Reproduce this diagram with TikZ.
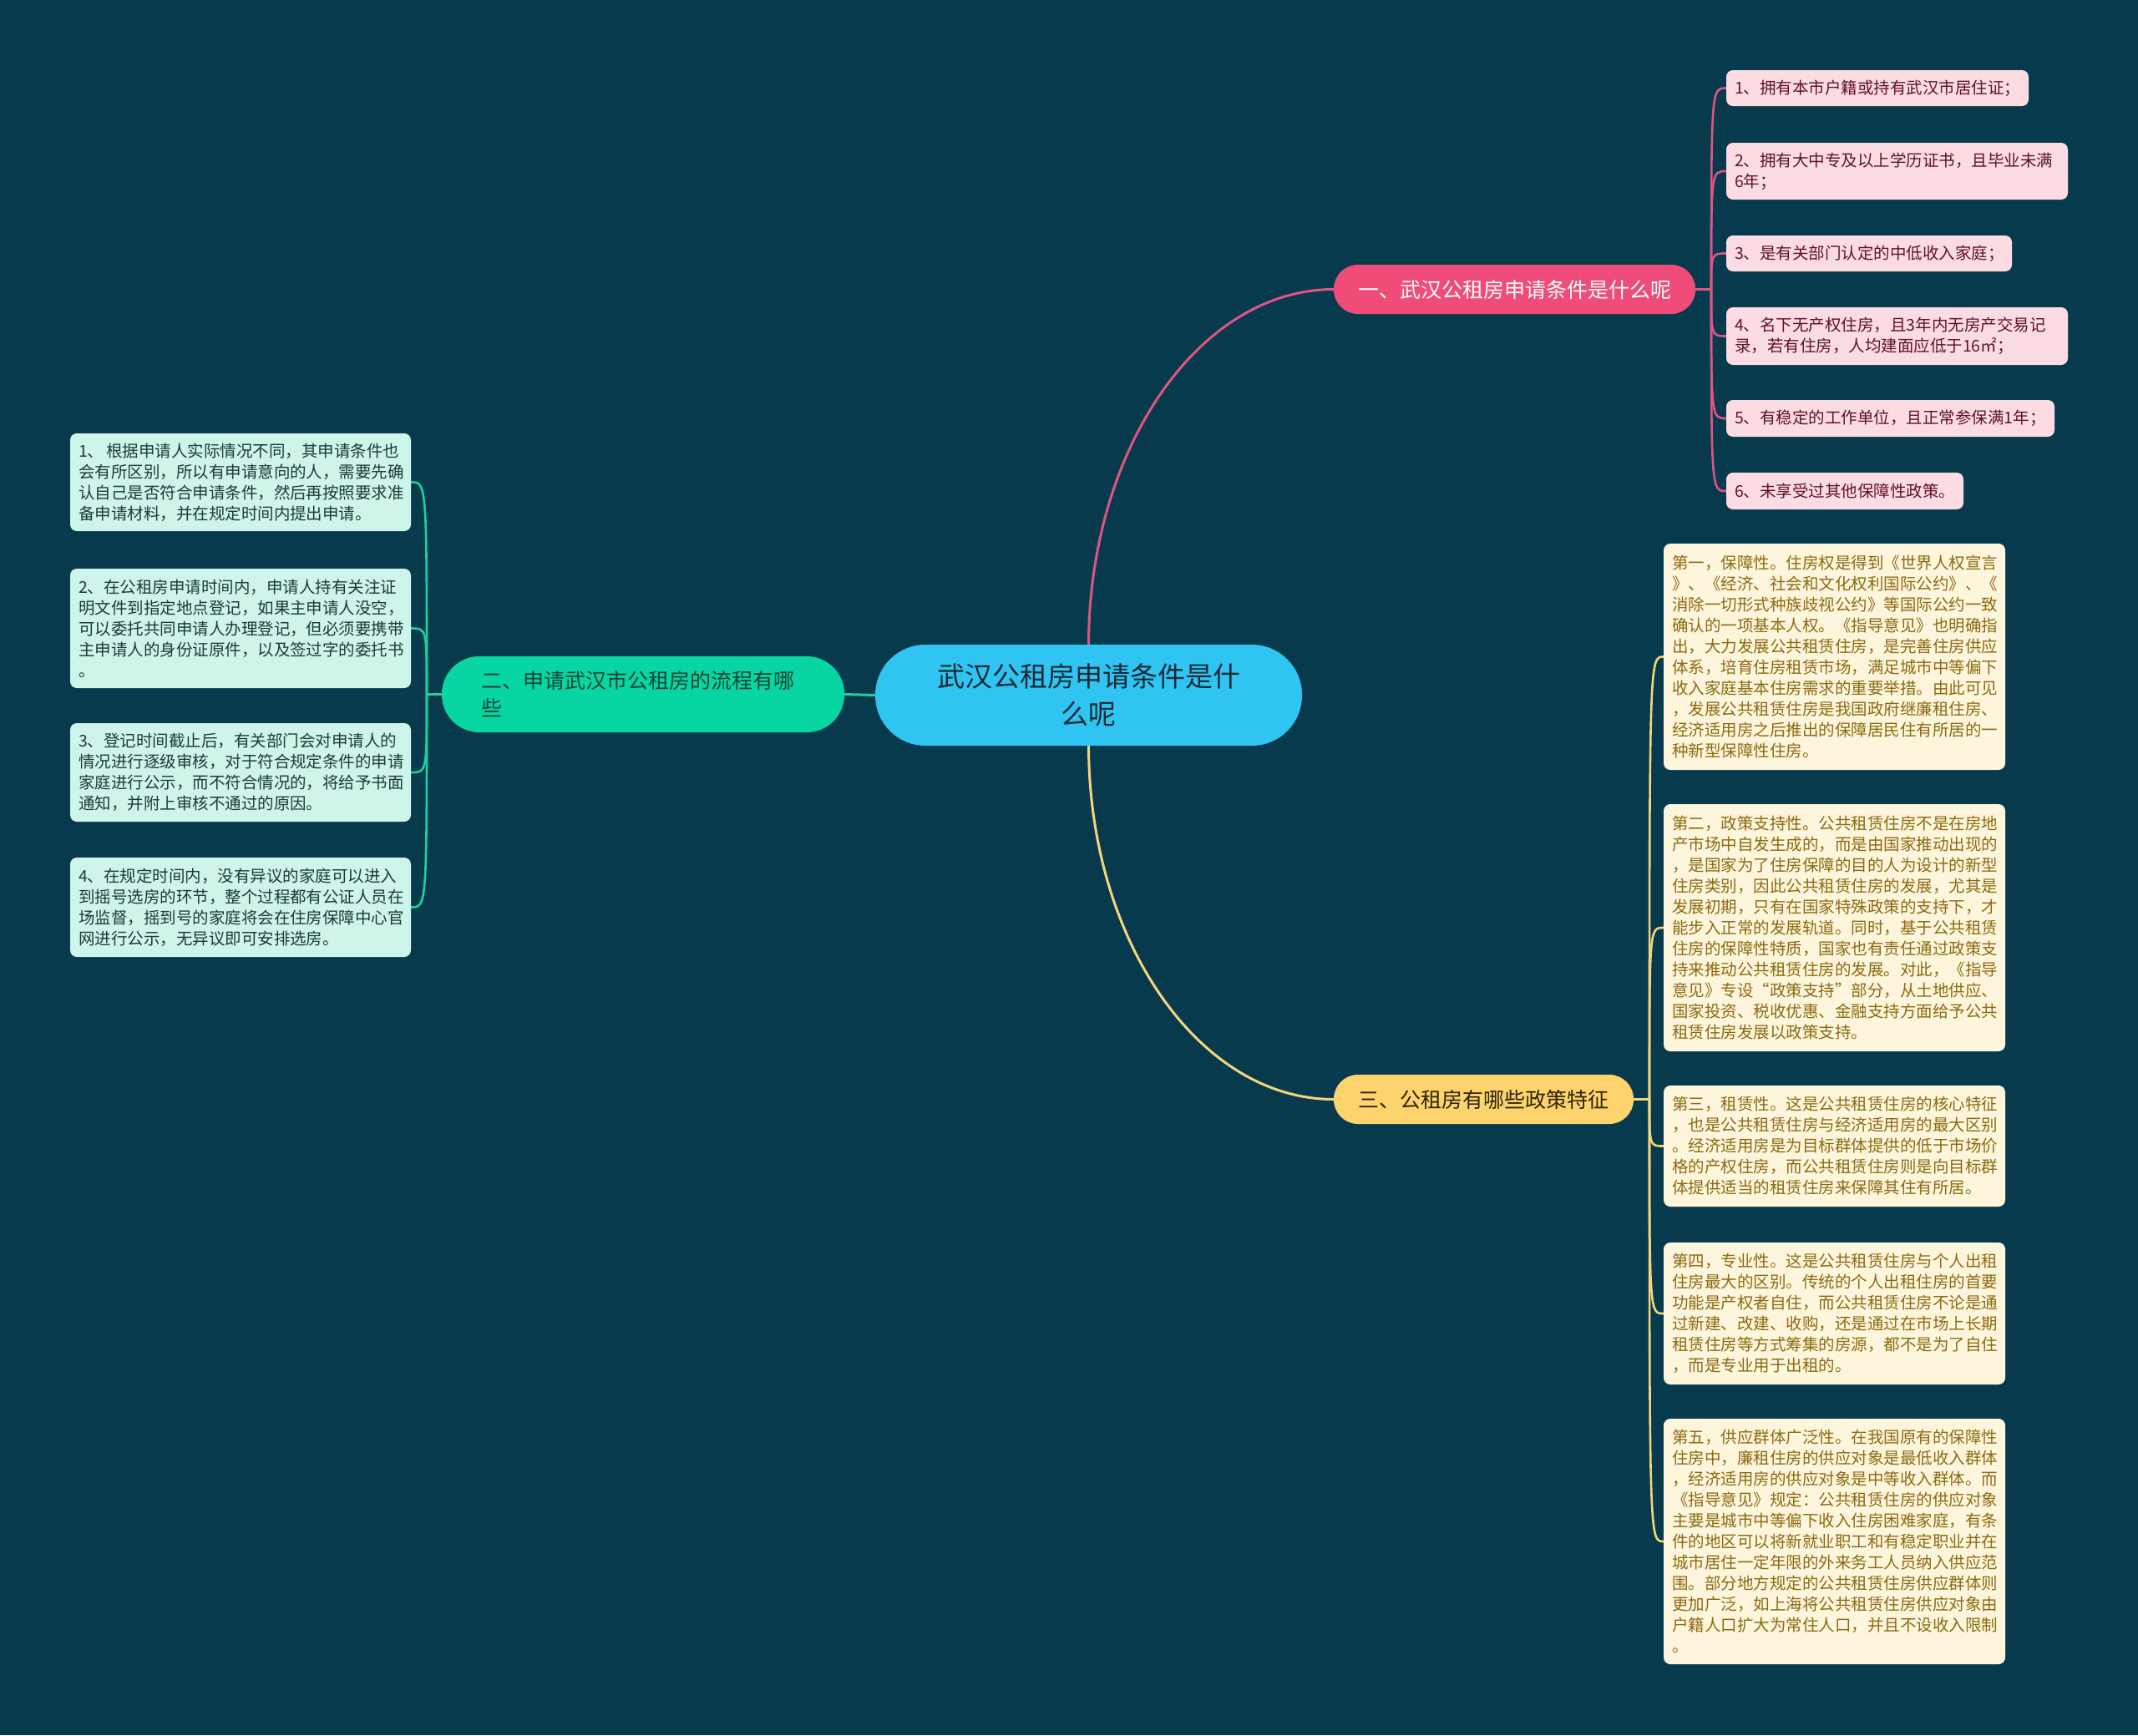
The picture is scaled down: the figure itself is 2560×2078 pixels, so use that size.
\documentclass[tikz,border=0pt]{standalone}
\usepackage{fontspec}
\setmainfont{Noto Sans CJK SC}
\usetikzlibrary{calc}
\definecolor{bgc}{HTML}{083A4E}
\definecolor{rootfill}{HTML}{30C4F2}
\definecolor{roottext}{HTML}{172A35}
\definecolor{pinkfill}{HTML}{EF4C77}
\definecolor{pinkline}{HTML}{DC5680}
\definecolor{pinkleaffill}{HTML}{FCDCE3}
\definecolor{pinkleaftext}{HTML}{5E1229}
\definecolor{greenfill}{HTML}{07D6A2}
\definecolor{greentext}{HTML}{0D4438}
\definecolor{greenline}{HTML}{1CD09E}
\definecolor{greenleaffill}{HTML}{CDF5E9}
\definecolor{greenleaftext}{HTML}{173D36}
\definecolor{yellowfill}{HTML}{FDD36E}
\definecolor{yellowtext}{HTML}{2C2308}
\definecolor{yellowline}{HTML}{F4D57A}
\definecolor{creamfill}{HTML}{FDF5DC}
\definecolor{creamtext}{HTML}{8C6A10}
\pgfdeclarelayer{bglayer}
\pgfdeclarelayer{linelayer}
\pgfsetlayers{bglayer,linelayer,main}
\begin{document}
\begin{tikzpicture}[x=1pt,y=-1pt,
  leafbase/.style={rectangle, rounded corners=8pt, inner xsep=10pt, inner ysep=0pt, align=left,
    font=\fontsize{19.5}{25}\selectfont},
  pinkleaf/.style={leafbase, fill=pinkleaffill, text=pinkleaftext},
  greenleaf/.style={leafbase, fill=greenleaffill, text=greenleaftext, minimum width=408pt, text width=388pt},
  creamleaf/.style={leafbase, fill=creamfill, text=creamtext, minimum width=409pt, text width=389pt},
  pinkmain/.style={rectangle, rounded corners=29pt, fill=pinkfill, text=white, minimum width=433pt, minimum height=59pt,
    font=\fontsize{25}{32}\selectfont, inner sep=0pt},
  greenmain/.style={rectangle, rounded corners=45pt, fill=greenfill, text=greentext, minimum width=482pt, minimum height=91pt,
    text width=388pt, align=left, inner xsep=47pt, inner ysep=0pt, font=\fontsize{25}{33}\selectfont},
  yellowmain/.style={rectangle, rounded corners=29pt, fill=yellowfill, text=yellowtext, minimum width=359pt, minimum height=59pt,
    font=\fontsize{25}{32}\selectfont, inner sep=0pt},
  rootnode/.style={rectangle, rounded corners=60pt, fill=rootfill, text=roottext, minimum width=511pt, minimum height=121pt,
    align=center, inner sep=0pt, font=\fontsize{33}{45}\selectfont},
  pinkconn/.style={draw=pinkline, line width=2.6pt},
  greenconn/.style={draw=greenline, line width=2.6pt},
  yellowconn/.style={draw=yellowline, line width=2.6pt}
]
\begin{pgfonlayer}{bglayer}
\fill[bgc] (0,0) rectangle (2560,2078);
\end{pgfonlayer}
\useasboundingbox (0,0) rectangle (2560,2078);

% root
\node[rootnode] (root) at (1303.5,832.5) {武汉公租房申请条件是什\\么呢};

% main branches
\node[pinkmain] (b1) at (1813.5,346.5) {一、武汉公租房申请条件是什么呢};
\node[greenmain] (b2) at (770,831.5) {二、申请武汉市公租房的流程有哪\\些};
\node[yellowmain] (b3) at (1776.5,1316.5) {三、公租房有哪些政策特征};

% pink leaves
\node[pinkleaf, minimum width=362pt, text width=342pt, minimum height=43pt] (p1) at (2248,105.5) {1、拥有本市户籍或持有武汉市居住证；};
\node[pinkleaf, minimum width=409pt, text width=389pt, minimum height=68pt] (p2) at (2271.5,205) {2、拥有大中专及以上学历证书，且毕业未满\\6年；};
\node[pinkleaf, minimum width=342pt, text width=322pt, minimum height=43pt] (p3) at (2238,303.5) {3、是有关部门认定的中低收入家庭；};
\node[pinkleaf, minimum width=409pt, text width=389pt, minimum height=69pt] (p4) at (2271.5,402.5) {4、名下无产权住房，且3年内无房产交易记\\录，若有住房，人均建面应低于16㎡；};
\node[pinkleaf, minimum width=393pt, text width=373pt, minimum height=44pt] (p5) at (2263.5,501) {5、有稳定的工作单位，且正常参保满1年；};
\node[pinkleaf, minimum width=284pt, text width=264pt, minimum height=44pt] (p6) at (2209,588) {6、未享受过其他保障性政策。};

% green leaves
\node[greenleaf, minimum height=117pt] (g1) at (288,577.5) {1、\hspace{3pt}根据申请人实际情况不同，其申请条件也\\会有所区别，所以有申请意向的人，需要先确\\认自己是否符合申请条件，然后再按照要求准\\备申请材料，并在规定时间内提出申请。};
\node[greenleaf, minimum height=143pt] (g2) at (288,752.5) {2、在公租房申请时间内，申请人持有关注证\\明文件到指定地点登记，如果主申请人没空，\\可以委托共同申请人办理登记，但必须要携带\\主申请人的身份证原件，以及签过字的委托书\\。};
\node[greenleaf, minimum height=118pt] (g3) at (288,925) {3、登记时间截止后，有关部门会对申请人的\\情况进行逐级审核，对于符合规定条件的申请\\家庭进行公示，而不符合情况的，将给予书面\\通知，并附上审核不通过的原因。};
\node[greenleaf, minimum height=119pt] (g4) at (288,1086.5) {4、在规定时间内，没有异议的家庭可以进入\\到摇号选房的环节，整个过程都有公证人员在\\场监督，摇到号的家庭将会在住房保障中心官\\网进行公示，无异议即可安排选房。};

% cream leaves
\node[creamleaf, minimum height=271pt] (c1) at (2196.5,786.5) {第一，保障性。住房权是得到《世界人权宣言\\》、《经济、社会和文化权利国际公约》、《\\消除一切形式种族歧视公约》等国际公约一致\\确认的一项基本人权。《指导意见》也明确指\\出，大力发展公共租赁住房，是完善住房供应\\体系，培育住房租赁市场，满足城市中等偏下\\收入家庭基本住房需求的重要举措。由此可见\\，发展公共租赁住房是我国政府继廉租住房、\\经济适用房之后推出的保障居民住有所居的一\\种新型保障性住房。};
\node[creamleaf, minimum height=296pt] (c2) at (2196.5,1111) {第二，政策支持性。公共租赁住房不是在房地\\产市场中自发生成的，而是由国家推动出现的\\，是国家为了住房保障的目的人为设计的新型\\住房类别，因此公共租赁住房的发展，尤其是\\发展初期，只有在国家特殊政策的支持下，才\\能步入正常的发展轨道。同时，基于公共租赁\\住房的保障性特质，国家也有责任通过政策支\\持来推动公共租赁住房的发展。对此，《指导\\意见》专设“政策支持”部分，从土地供应、\\国家投资、税收优惠、金融支持方面给予公共\\租赁住房发展以政策支持。};
\node[creamleaf, minimum height=145pt] (c3) at (2196.5,1372.5) {第三，租赁性。这是公共租赁住房的核心特征\\，也是公共租赁住房与经济适用房的最大区别\\。经济适用房是为目标群体提供的低于市场价\\格的产权住房，而公共租赁住房则是向目标群\\体提供适当的租赁住房来保障其住有所居。};
\node[creamleaf, minimum height=170pt] (c4) at (2196.5,1573) {第四，专业性。这是公共租赁住房与个人出租\\住房最大的区别。传统的个人出租住房的首要\\功能是产权者自住，而公共租赁住房不论是通\\过新建、改建、收购，还是通过在市场上长期\\租赁住房等方式筹集的房源，都不是为了自住\\，而是专业用于出租的。};
\node[creamleaf, minimum height=294pt] (c5) at (2196.5,1846) {第五，供应群体广泛性。在我国原有的保障性\\住房中，廉租住房的供应对象是最低收入群体\\，经济适用房的供应对象是中等收入群体。而\\《指导意见》规定：公共租赁住房的供应对象\\主要是城市中等偏下收入住房困难家庭，有条\\件的地区可以将新就业职工和有稳定职业并在\\城市居住一定年限的外来务工人员纳入供应范\\围。部分地方规定的公共租赁住房供应群体则\\更加广泛，如上海将公共租赁住房供应对象由\\户籍人口扩大为常住人口，并且不设收入限制\\。};

% spine coordinates
\coordinate (s1) at (2049,346.5);
\coordinate (s2) at (511,831.5);
\coordinate (s3) at (1975,1316.5);

\begin{pgfonlayer}{linelayer}
% root to branches
\draw[pinkconn, line width=3pt] (root.north) .. controls (1304,537) and (1436,346.5) .. (b1.west);
\draw[yellowconn, line width=3pt] (root.south) .. controls (1304,1127) and (1436,1316.5) .. (b3.west);
\draw[greenconn, line width=3pt] (root.west) -- (b2.east);
% pink
\draw[pinkconn] (b1.east) -- (s1);
\foreach \n/\yy in {p1/105.5,p2/205,p3/303.5,p4/402.5,p5/501,p6/588}
  \draw[pinkconn] (s1) .. controls (2049,\yy) and (2049,\yy) .. (\n.west);
% green
\draw[greenconn] (b2.west) -- (s2);
\foreach \n/\yy in {g1/577.5,g2/752.5,g3/925,g4/1086.5}
  \draw[greenconn] (s2) .. controls (511,\yy) and (511,\yy) .. (\n.east);
% yellow
\draw[yellowconn] (b3.east) -- (s3);
\foreach \n/\yy in {c1/786.5,c2/1111,c3/1372.5,c4/1573,c5/1846}
  \draw[yellowconn] (s3) .. controls (1975,\yy) and (1975,\yy) .. (\n.west);
\end{pgfonlayer}
\end{tikzpicture}
\end{document}
